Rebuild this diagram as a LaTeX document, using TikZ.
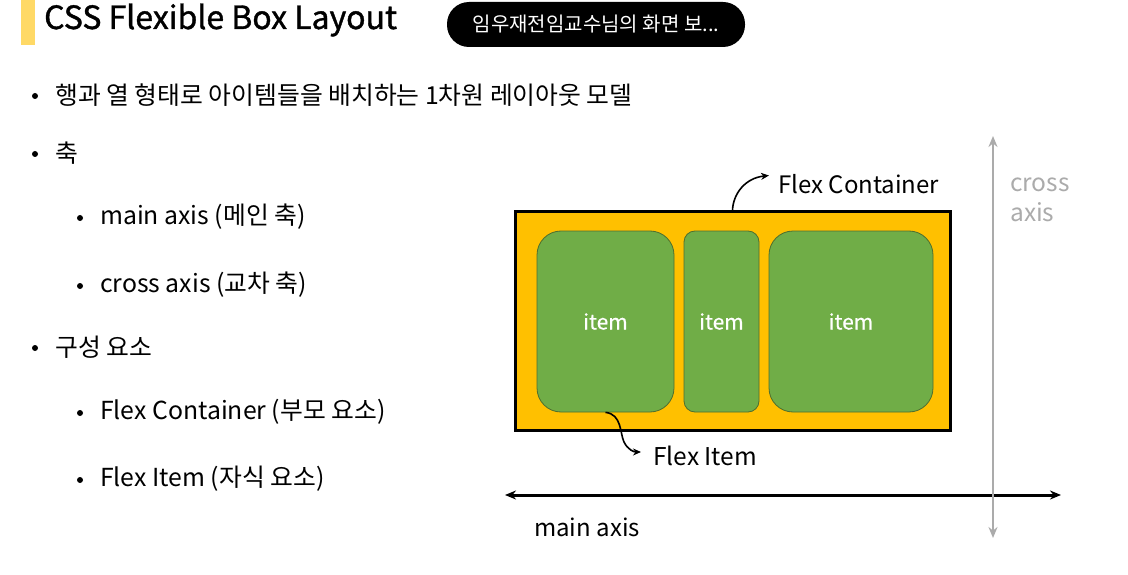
\documentclass[tikz,border=0pt]{standalone}
\usepackage{fontspec}
\setmainfont{Noto Sans CJK KR}
\newfontfamily\heavyfont{Noto Sans CJK KR}[FakeBold=1.2]
\newfontfamily\midfont{Noto Sans CJK KR}[FakeBold=0.6]
\usetikzlibrary{arrows.meta}
\definecolor{barY}{HTML}{FFD966}
\definecolor{contO}{HTML}{FFC000}
\definecolor{itemG}{HTML}{70AD47}
\definecolor{itemB}{HTML}{4E6E2E}
\definecolor{axisG}{HTML}{ABABAB}
\tikzset{
  txt/.style={inner sep=0pt, anchor=west, font=\fontsize{24}{28}\selectfont},
  list/.style={txt, font=\fontsize{24.8}{28}\selectfont},
  bul/.style={circle, fill=black, inner sep=0pt, minimum size=6pt},
  flexitem/.style={draw=itemB, line width=0.8pt, fill=itemG, rounded corners=24pt, minimum height=181pt, text=white, font=\midfont\fontsize{21}{25}\selectfont, inner sep=0pt},
  callout/.style={line width=1.6pt, -{Stealth[length=8pt,width=7pt]}},
  axisarrow/.style={line width=3pt, {Stealth[length=11pt,width=9pt]}-{Stealth[length=11pt,width=9pt]}}
}
\begin{document}
\begin{tikzpicture}[x=1pt,y=-1pt]
\useasboundingbox (0,0) rectangle (1128,575);
\fill[white] (0,0) rectangle (1128,575);
% title
\fill[barY] (21,0) rectangle (35,45);
\node[txt, font=\heavyfont\fontsize{32}{36}\selectfont] (title) at (44,20) {CSS Flexible Box Layout};
\node[fill=black, rounded corners=22pt, minimum width=298pt, minimum height=45pt, inner sep=0pt, text=white, font=\fontsize{20}{24}\selectfont] (pill) at (596,24.5) {임우재전임교수님의 화면 보...};
% bullets
\node[bul] (b1) at (35,96) {};
\node[list] (t1) at (55,95) {행과 열 형태로 아이템들을 배치하는 1차원 레이아웃 모델};
\node[bul] (b2) at (35,154) {};
\node[list] (t2) at (55,153) {축};
\node[bul] (b3) at (80,218) {};
\node[list] (t3) at (100,217) {main axis (메인 축)};
\node[bul] (b4) at (80,286) {};
\node[list] (t4) at (100,285) {cross axis (교차 축)};
\node[bul] (b5) at (35,348) {};
\node[list] (t5) at (55,347) {구성 요소};
\node[bul] (b6) at (80,413) {};
\node[list] (t6) at (100,412) {Flex Container (부모 요소)};
\node[bul] (b7) at (80,480) {};
\node[list] (t7) at (100,479) {Flex Item (자식 요소)};
% diagram
\node[draw=black, line width=3pt, fill=contO, minimum width=435pt, minimum height=218pt, inner sep=0pt] (cont) at (732.5,321) {};
\node[flexitem, minimum width=137pt] (it1) at (605.5,321.5) {item};
\node[flexitem, minimum width=75pt, rounded corners=11pt] (it2) at (721.5,321.5) {item};
\node[flexitem, minimum width=164pt] (it3) at (851,321.5) {item};
\node[txt] (fcl) at (778,184) {Flex Container};
\coordinate (fcend) at (769,175.5);
\draw[callout] (cont.north) .. controls (733,194) and (745,178) .. (fcend);
\node[txt, font=\fontsize{24.5}{28}\selectfont] (fil) at (653,456) {Flex Item};
\coordinate (fiend) at (641,452);
\draw[callout] (it1.south) .. controls (622,414) and (620,434) .. (624,442) .. controls (628,450) and (634,452) .. (fiend);
% axes
\coordinate (mal) at (505,495);
\coordinate (mar) at (1061,495);
\draw[axisarrow] (mal) -- (mar);
\node[txt] (mal-lab) at (534,527) {main axis};
\coordinate (cat) at (993,136);
\coordinate (cab) at (993,538);
\draw[axisarrow, axisG, line width=2.6pt] (cat) -- (cab);
\node[txt, text=axisG, align=left, font=\fontsize{24.5}{30}\selectfont] (cal) at (1010,200) {cross\\axis};
\end{tikzpicture}
\end{document}
